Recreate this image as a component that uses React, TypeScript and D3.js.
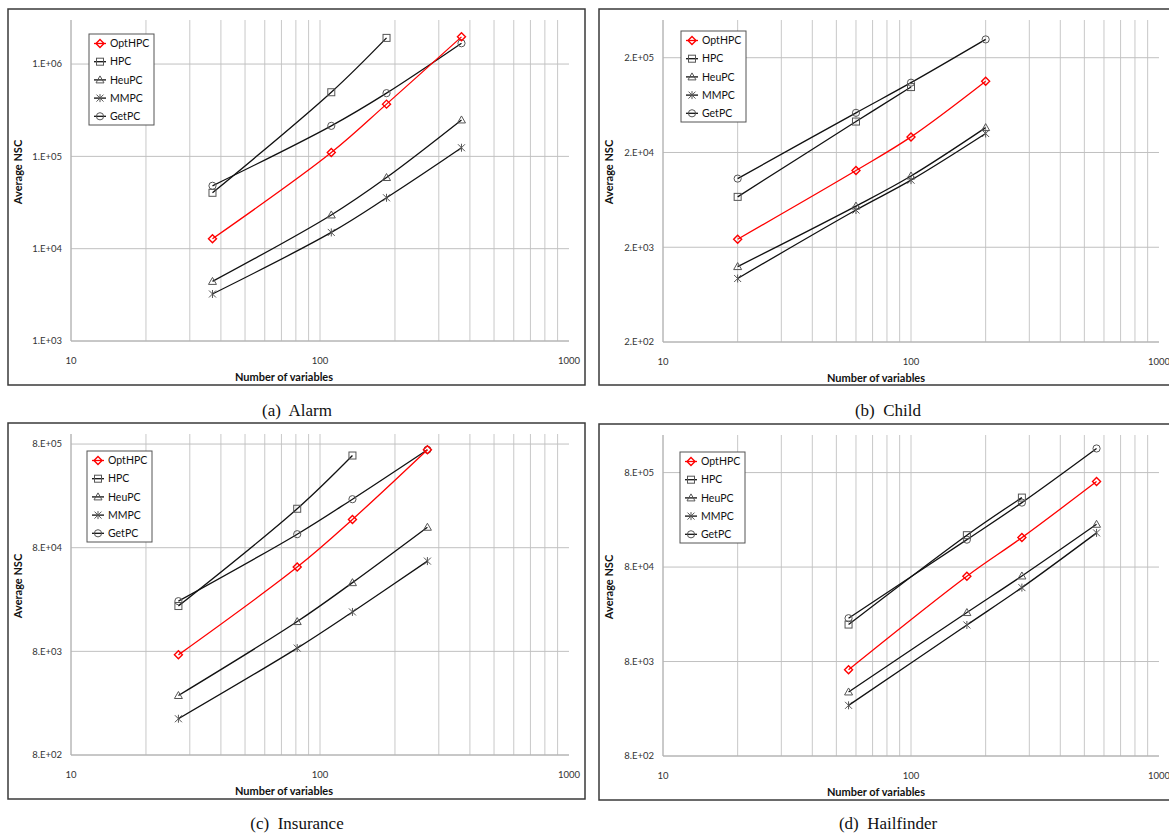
import React from "react";
import * as d3 from "d3";

const width = 1169;
const height = 836;

const seriesNames = ["OptHPC", "HPC", "HeuPC", "MMPC", "GetPC"];
const xTicks = [10, 100, 1000];

// Alarm
const alarmVars = [37, 111, 185, 370];
const alarmNsc = [
  [1.28e4, 1.1e5, 3.68e5, 1.97e6],
  [4.03e4, 4.95e5, 1.92e6],
  [4.42e3, 2.32e4, 5.9e4, 2.48e5],
  [3.23e3, 1.5e4, 3.56e4, 1.24e5],
  [4.8e4, 2.14e5, 4.84e5, 1.68e6],
];
const alarmYTicks = [1e3, 1e4, 1e5, 1e6];

// Child
const childVars = [20, 60, 100, 200];
const childNsc = [
  [2.43e3, 1.29e4, 2.92e4, 1.13e5],
  [6.8e3, 4.24e4, 9.8e4],
  [1.25e3, 5.44e3, 1.13e4, 3.66e4],
  [935, 4.94e3, 1.02e4, 3.17e4],
  [1.06e4, 5.24e4, 1.09e5, 3.12e5],
];
const childYTicks = [2e2, 2e3, 2e4, 2e5];

// Insurance
const insuranceVars = [27, 81, 135, 270];
const insuranceNsc = [
  [7.4e3, 5.2e4, 1.5e5, 7.05e5],
  [2.19e4, 1.9e5, 6.2e5],
  [3.0e3, 1.55e4, 3.68e4, 1.26e5],
  [1.79e3, 8.6e3, 1.92e4, 5.94e4],
  [2.44e4, 1.08e5, 2.35e5, 7.05e5],
];
const insuranceYTicks = [8e2, 8e3, 8e4, 8e5];

// Hailfinder
const hailfinderVars = [56, 168, 280, 560];
const hailfinderNsc = [
  [6.56e3, 6.4e4, 1.64e5, 6.43e5],
  [1.97e4, 1.74e5, 4.35e5],
  [3.81e3, 2.64e4, 6.44e4, 2.27e5],
  [2.75e3, 1.95e4, 4.85e4, 1.84e5],
  [2.3e4, 1.56e5, 3.85e5, 1.44e6],
];
const hailfinderYTicks = [8e2, 8e3, 8e4, 8e5];

const yAxisMax = [3e6, 5e5, 1e6, 2e6];
const captions = ["(a)  Alarm", "(b)  Child", "(c)  Insurance", "(d)  Hailfinder"];

const panelData = [
  { vars: alarmVars, nsc: alarmNsc, yTicks: alarmYTicks },
  { vars: childVars, nsc: childNsc, yTicks: childYTicks },
  { vars: insuranceVars, nsc: insuranceNsc, yTicks: insuranceYTicks },
  { vars: hailfinderVars, nsc: hailfinderNsc, yTicks: hailfinderYTicks },
];

// frame + plot area for each panel
const layout = [
  { fx: 8, fy: 9, left: 71, right: 569, top: 20, bottom: 341, lx: 89, ly: 34, capY: 416 },
  { fx: 599, fy: 9, left: 663, right: 1159, top: 20, bottom: 342, lx: 681, ly: 31, capY: 416 },
  { fx: 8, fy: 423, left: 71, right: 569, top: 434, bottom: 755, lx: 87, ly: 451, capY: 829 },
  { fx: 599, fy: 424, left: 663, right: 1159, top: 435, bottom: 756, lx: 680, ly: 452, capY: 829 },
];
const frameW = 577;
const frameH = 376;

const font = "Lato, 'Open Sans', sans-serif";
const lineColor = (i) => (i === 0 ? "#ff0000" : "#111");
const markColor = (i) => (i === 0 ? "#ff0000" : "#555");

const fmtSci = (v) => {
  const e = Math.floor(Math.log10(v) + 1e-9);
  const m = Math.round(v / Math.pow(10, e));
  return `${m}.E+${String(e).padStart(2, "0")}`;
};

const Marker = ({ i, x, y }) => {
  const c = markColor(i);
  const common = { fill: "none", stroke: c, strokeWidth: 1 };
  switch (i) {
    case 0:
      return <path d={`M${x},${y - 4}L${x + 4},${y}L${x},${y + 4}L${x - 4},${y}Z`} {...common} strokeWidth={1.4} />;
    case 1:
      return <rect x={x - 3.5} y={y - 3.5} width={7} height={7} {...common} />;
    case 2:
      return <path d={`M${x},${y - 4}L${x + 4},${y + 3}L${x - 4},${y + 3}Z`} {...common} />;
    case 3:
      return (
        <path
          d={`M${x - 3.5},${y - 3.5}L${x + 3.5},${y + 3.5}M${x - 3.5},${y + 3.5}L${x + 3.5},${y - 3.5}M${x},${y - 4}L${x},${y + 4}`}
          stroke={c}
          strokeWidth={1}
          fill="none"
        />
      );
    default:
      return <circle cx={x} cy={y} r={3.6} {...common} />;
  }
};

const Panel = ({ idx }) => {
  const { vars, nsc, yTicks } = panelData[idx];
  const L = layout[idx];
  const x = d3.scaleLog().domain([10, 1000]).range([L.left, L.right]);
  const y = d3.scaleLog().domain([yTicks[0], yAxisMax[idx]]).range([L.bottom, L.top]);

  const minorX = d3.range(1, 3).flatMap((e) => d3.range(1, 10).map((m) => m * Math.pow(10, e)));
  const line = d3
    .line()
    .x((d) => x(d[0]))
    .y((d) => y(d[1]))
    .curve(d3.curveCatmullRom.alpha(0.5));

  return (
    <g>
      <rect x={L.fx} y={L.fy} width={frameW} height={frameH} fill="white" stroke="#3a3a3a" strokeWidth={1.5} />
      {minorX.map((v) => (
        <line key={"vx" + v} x1={x(v)} x2={x(v)} y1={L.top} y2={L.bottom} stroke="#c8c8c8" strokeWidth={1} />
      ))}
      {yTicks.map((v) => (
        <line key={"hy" + v} x1={L.left} x2={L.right} y1={y(v)} y2={y(v)} stroke="#c0c0c0" strokeWidth={1} />
      ))}
      <line x1={L.left} x2={L.left} y1={L.top} y2={L.bottom} stroke="#b0b0b0" />
      <line x1={L.left} x2={L.right} y1={L.bottom} y2={L.bottom} stroke="#b0b0b0" />
      {yTicks.map((v) => (
        <text key={"yl" + v} x={L.left - 9} y={y(v)} dy="0.35em" textAnchor="end" fontSize={9.5} fontFamily={font} fill="#333">
          {fmtSci(v)}
        </text>
      ))}
      {xTicks.map((v) => (
        <text key={"xl" + v} x={x(v)} y={L.bottom + 23} textAnchor="middle" fontSize={9.5} fontFamily={font} fill="#333">
          {v}
        </text>
      ))}
      <text x={L.left + 213} y={L.bottom + 40} textAnchor="middle" fontSize={11} fontWeight="bold" fontFamily={font} fill="#111">
        Number of variables
      </text>
      <text
        transform={`translate(${L.fx + 10},${L.fy + 163}) rotate(-90)`}
        dy="0.35em"
        textAnchor="middle"
        fontSize={11}
        fontWeight="bold"
        fontFamily={font}
        fill="#111"
      >
        Average NSC
      </text>
      {nsc
        .map((vals, i) => ({ vals, i }))
        .reverse()
        .map(({ vals, i }) => {
          const pts = vals.map((v, k) => [vars[k], v]);
          return (
            <g key={"s" + i}>
              <path d={line(pts)} fill="none" stroke={lineColor(i)} strokeWidth={1.3} />
              {pts.map((p, k) => (
                <Marker key={k} i={i} x={x(p[0])} y={y(p[1])} />
              ))}
            </g>
          );
        })}
      <rect x={L.lx} y={L.ly} width={65} height={91} fill="white" stroke="#555" strokeWidth={1} />
      {seriesNames.map((name, i) => {
        const ry = L.ly + 9.5 + i * 18.2;
        return (
          <g key={name}>
            <line x1={L.lx + 5} x2={L.lx + 17} y1={ry} y2={ry} stroke={lineColor(i)} strokeWidth={1.3} />
            <Marker i={i} x={L.lx + 11} y={ry} />
            <text x={L.lx + 21} y={ry} dy="0.35em" fontSize={10.5} fontFamily={font} fill="#111">
              {name}
            </text>
          </g>
        );
      })}
      <text
        x={L.fx + 289}
        y={L.capY}
        textAnchor="middle"
        fontSize={17}
        fontFamily="'Liberation Serif', 'Times New Roman', serif"
        fill="#111"
        style={{ whiteSpace: "pre" }}
      >
        {captions[idx]}
      </text>
    </g>
  );
};

const App = () => {
  return (
    <svg
      width={width}
      height={height}
      style={{ position: "absolute", left: 0, top: 0, display: "block", background: "white" }}
    >
      <rect width={width} height={height} fill="white" />
      {[0, 1, 2, 3].map((i) => (
        <Panel key={i} idx={i} />
      ))}
    </svg>
  );
};

export default App;
